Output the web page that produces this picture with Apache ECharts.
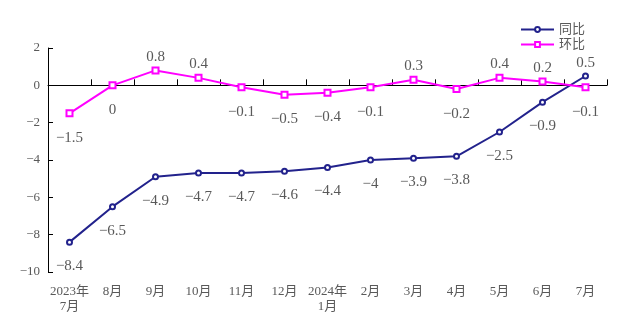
<!DOCTYPE html>
<html>
<head>
<meta charset="utf-8">
<script src="https://cdn.jsdelivr.net/npm/echarts@6/dist/echarts.min.js"></script>
<style>
  html, body { margin: 0; padding: 0; background: #fff; }
  #chart { width: 631px; height: 331px; }
</style>
</head>
<body>
<div id="chart"></div>
<script>
// Months from July 2023 to July 2024
const months = ['2023年\n7月', '8月', '9月', '10月', '11月', '12月', '2024年\n1月', '2月', '3月', '4月', '5月', '6月', '7月'];
// Year-on-year change (%)
const yoy = [-8.4, -6.5, -4.9, -4.7, -4.7, -4.6, -4.4, -4, -3.9, -3.8, -2.5, -0.9, 0.5];
// Month-on-month change (%)
const mom = [-1.5, 0, 0.8, 0.4, -0.1, -0.5, -0.4, -0.1, 0.3, -0.2, 0.4, 0.2, -0.1];
const yTicks = { min: -10, max: 2, step: 2 };

const FONT = '"Liberation Serif", "DejaVu Serif", "Noto Sans CJK SC", serif';
const TEXT = '#595959';
const minus = v => String(v).replace('-', '\u2212');

// positive values are labelled above the point, the rest below it
function labelled(values) {
  return values.map(v => ({
    value: v,
    label: v > 0 ? { position: 'top', distance: 2 } : { position: 'bottom', distance: 13 }
  }));
}

const chart = echarts.init(document.getElementById('chart'));
chart.setOption({
  animation: false,
  textStyle: { fontFamily: FONT },
  grid: { left: 48, right: 24, top: 48, bottom: 59 },
  legend: {
    orient: 'vertical',
    left: 515,
    top: 18,
    itemWidth: 33,
    itemHeight: 6,
    itemGap: 2,
    textStyle: { fontFamily: FONT, fontSize: 13, color: TEXT },
    data: ['同比', '环比']
  },
  xAxis: [
    {
      type: 'category',
      data: months,
      position: 'bottom',
      boundaryGap: true,
      axisLine: { show: false, onZero: false },
      axisTick: { show: false },
      axisLabel: { color: TEXT, fontSize: 13, fontFamily: FONT, margin: 12, lineHeight: 15, interval: 0 }
    },
    {
      // zero line with month separators
      type: 'category',
      data: months,
      position: 'top',
      boundaryGap: true,
      axisLine: { show: true, onZero: true, lineStyle: { color: '#000', width: 1 } },
      axisTick: { show: true, inside: false, length: 6, interval: 0, lineStyle: { color: '#000', width: 1 } },
      axisLabel: { show: false, interval: 0 }
    }
  ],
  yAxis: {
    type: 'value',
    min: yTicks.min,
    max: yTicks.max,
    interval: yTicks.step,
    axisLine: { show: true, lineStyle: { color: '#000', width: 1 } },
    axisTick: { show: true, inside: true, length: 5, lineStyle: { color: '#000' } },
    splitLine: { show: false },
    axisLabel: { color: TEXT, fontSize: 13, fontFamily: FONT, margin: 8, formatter: minus }
  },
  series: [
    {
      name: '同比',
      type: 'line',
      xAxisIndex: 0,
      data: labelled(yoy),
      symbol: 'emptyCircle',
      symbolSize: 5,
      itemStyle: { color: '#22228C', borderWidth: 1 },
      lineStyle: { color: '#22228C', width: 2 },
      label: {
        show: true, color: TEXT, fontSize: 15, fontFamily: FONT,
        formatter: p => minus(p.value)
      }
    },
    {
      name: '环比',
      type: 'line',
      xAxisIndex: 0,
      data: labelled(mom),
      symbol: 'emptyRect',
      symbolSize: 6,
      itemStyle: { color: '#FF00FF', borderWidth: 1.2 },
      lineStyle: { color: '#FF00FF', width: 2 },
      label: {
        show: true, color: TEXT, fontSize: 15, fontFamily: FONT,
        formatter: p => minus(p.value)
      }
    }
  ]
});
</script>
</body>
</html>
